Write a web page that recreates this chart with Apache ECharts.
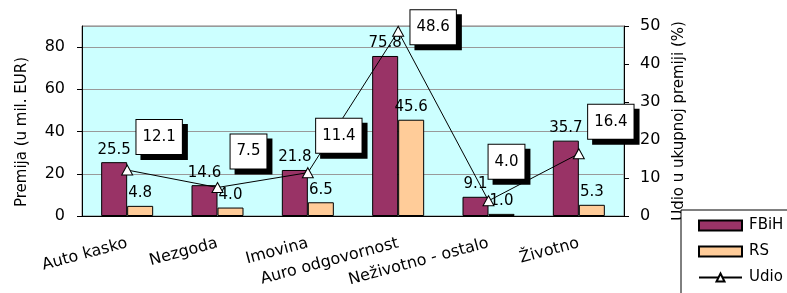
<!DOCTYPE html>
<html>
<head>
<meta charset="utf-8">
<script src="https://cdn.jsdelivr.net/npm/echarts@6/dist/echarts.min.js"></script>
<style>
  html, body { margin: 0; padding: 0; background: #fff; }
  #main { width: 787px; height: 293px; }
</style>
</head>
<body>
<div id="main"></div>
<script>
// podaci sa slike
var kategorije = ['Auto kasko', 'Nezgoda', 'Imovina', 'Auro odgovornost', 'Neživotno - ostalo', 'Životno']
var fbih = [25.5, 14.6, 21.8, 75.8, 9.1, 35.7]
var rs = [4.8, 4.0, 6.5, 45.6, 1.0, 5.3]
var udio = [12.1, 7.5, 11.4, 48.6, 4.0, 16.4]

// pomak kutija s oznakama udjela (px od tacke)
var udioOffsets = [[32, -33], [31, -36], [31, -37], [35, -4], [18, -39], [32, -32]]

var font = 'DejaVu Sans'
var fmt = function (p) { return Number(p.value).toFixed(1) }

var chart = echarts.init(document.getElementById('main'))
chart.setOption({
  animation: false,
  textStyle: { fontFamily: font },
  grid: {
    left: 82, right: 163, top: 26, bottom: 77,
    show: true, backgroundColor: '#CCFFFF', borderColor: '#808080', borderWidth: 1
  },
  legend: {
    orient: 'vertical',
    left: 681, top: 210, height: 120, width: 120,
    padding: [8, 40, 40, 17],
    itemWidth: 43, itemHeight: 10, itemGap: 11,
    backgroundColor: '#fff', borderColor: '#000', borderWidth: 1, borderRadius: 0,
    textStyle: { fontFamily: font, fontSize: 15, color: '#000', padding: [0, 0, 0, 2] },
    data: [{ name: 'FBiH', icon: 'rect' }, { name: 'RS', icon: 'rect' }, { name: 'Udio' }]
  },
  xAxis: {
    type: 'category',
    data: kategorije,
    axisLine: { lineStyle: { color: '#000' } },
    axisTick: { length: 5, lineStyle: { color: '#000' } },
    axisLabel: { rotate: 15, margin: 27, fontSize: 16, color: '#000', fontFamily: font, interval: 0 }
  },
  yAxis: [{
    type: 'value', min: 0, max: 90, interval: 20,
    name: 'Premija (u mil. EUR)', nameLocation: 'middle', nameGap: 52,
    nameTextStyle: { fontSize: 15, color: '#000', fontFamily: font, padding: [0, 22, 0, 0] },
    axisLine: { show: true, lineStyle: { color: '#000' } },
    axisTick: { show: true, length: 5, lineStyle: { color: '#000' } },
    axisLabel: { showMaxLabel: false, margin: 17, fontSize: 16, color: '#000', fontFamily: font },
    splitLine: { lineStyle: { color: '#999' } }
  }, {
    type: 'value', min: 0, max: 50, interval: 10,
    name: 'Udio u ukupnoj premiji (%)', nameLocation: 'middle', nameGap: 47, nameRotate: 90,
    nameTextStyle: { fontSize: 15, color: '#000', fontFamily: font },
    axisLine: { show: true, lineStyle: { color: '#000' } },
    axisTick: { show: true, length: 5, lineStyle: { color: '#000' } },
    axisLabel: { margin: 16, fontSize: 16, color: '#000', fontFamily: font },
    splitLine: { show: false }
  }],
  series: [{
    name: 'FBiH', type: 'bar', data: fbih,
    barWidth: 26, barGap: '0%',
    itemStyle: { color: '#993366', borderColor: '#000', borderWidth: 1 },
    label: { show: true, position: 'top', distance: 5, formatter: fmt, fontSize: 15, color: '#000', fontFamily: font }
  }, {
    name: 'RS', type: 'bar', data: rs,
    barWidth: 26,
    itemStyle: { color: '#FFCC99', borderColor: '#000', borderWidth: 1 },
    label: { show: true, position: 'top', distance: 5, formatter: fmt, fontSize: 15, color: '#000', fontFamily: font }
  }, {
    name: 'Udio', type: 'line', yAxisIndex: 1,
    data: udio.map(function (v, i) {
      return { value: v, label: { offset: udioOffsets[i] } }
    }),
    symbol: 'triangle', symbolSize: [11, 10],
    lineStyle: { color: '#000', width: 1 },
    itemStyle: { color: '#fff', borderColor: '#000', borderWidth: 1 },
    label: {
      show: true, position: 'inside', formatter: fmt,
      fontSize: 15, color: '#000', fontFamily: font,
      backgroundColor: '#fff', borderColor: '#000', borderWidth: 1,
      padding: [10, 6, 9, 6],
      shadowColor: '#000', shadowOffsetX: 5, shadowOffsetY: 5, shadowBlur: 0
    },
    z: 5
  }]
})
</script>
</body>
</html>
